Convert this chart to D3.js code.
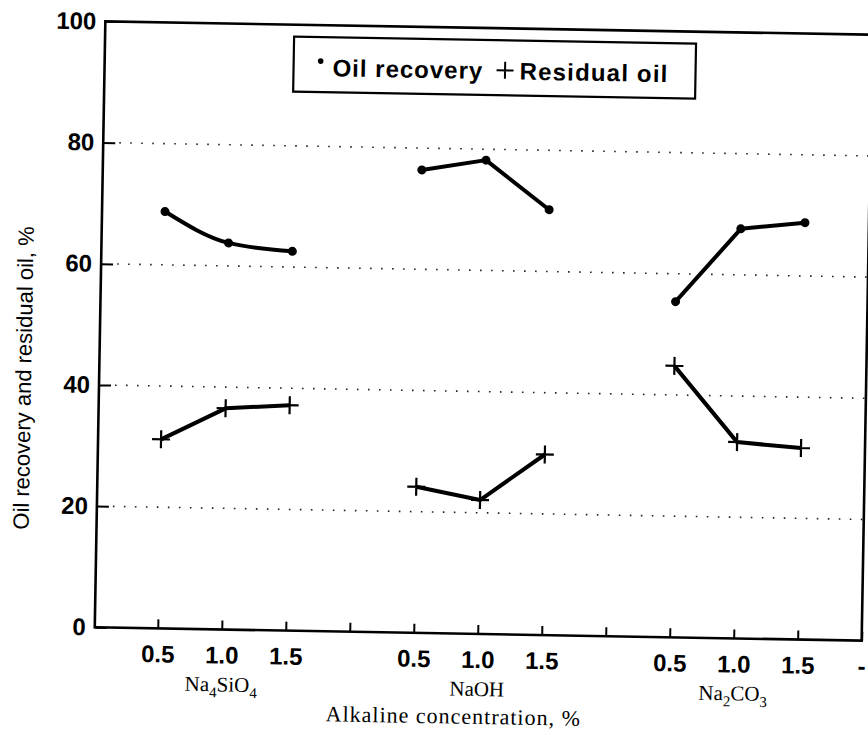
<!DOCTYPE html>
<html>
<head>
<meta charset="utf-8">
<script src="https://cdn.jsdelivr.net/npm/d3@7"></script>
<style>
  body { margin: 0; background: #fff; }
  svg { display: block; }
</style>
</head>
<body>
<svg id="chart" width="868" height="735"></svg>
<script>
// Oil recovery / residual oil vs alkaline concentration

var alkalis = ['Na4SiO4', 'NaOH', 'Na2CO3'];
var concentrations = ['0.5', '1.0', '1.5'];
var oilRecovery = [
  [68.8, 63.8, 62.6],
  [76.4, 78.2, 70.2],
  [55.4, 67.6, 68.8]
];
var residualOil = [
  [31.2, 36.5, 37.2],
  [24.1, 22.1, 29.8],
  [44.8, 32.4, 31.6]
];
var curvedRecovery = ['Na4SiO4'];
var yTicks = [0, 20, 40, 60, 80, 100];
var gridValues = [20, 40, 60, 80];
var xTickLabels = ['0.5', '1.0', '1.5', '', '0.5', '1.0', '1.5', '', '0.5', '1.0', '1.5', '-'];

var plotLeft = 100, plotRight = 867, plotTop = 28, plotBottom = 634;

var svg = d3.select('#chart');
// the scanned figure sits slightly tilted
var g = svg.append('g')
    .attr('transform', 'rotate(1, 483, 331)');

var x = d3.scaleLinear().domain([-1, 11]).range([99, 867]);
var y = d3.scaleLinear().domain([0, 100]).range([plotBottom, plotTop]);

function pos(a, c) { return a * 4 + c; }

// dotted gridlines
g.selectAll('line.grid')
    .data(gridValues)
  .enter().append('line')
    .attr('class', 'grid')
    .attr('x1', plotLeft + 16)
    .attr('x2', plotRight)
    .attr('y1', function(d) { return y(d); })
    .attr('y2', function(d) { return y(d); })
    .attr('stroke', '#222')
    .attr('stroke-width', 1.6)
    .attr('stroke-dasharray', '1.6,9.4');

// axes
var yAxis = d3.axisLeft(y)
    .tickValues(yTicks)
    .tickSizeInner(-12)
    .tickSizeOuter(0)
    .tickPadding(9);
var gy = g.append('g')
    .attr('transform', 'translate(' + plotLeft + ',0)')
    .call(yAxis);
gy.select('.domain').remove();
gy.selectAll('line').attr('stroke', '#000').attr('stroke-width', 2);
gy.selectAll('text')
    .attr('font-family', 'Liberation Sans, Arial, sans-serif')
    .attr('font-weight', 'bold')
    .attr('font-size', 24)
    .attr('fill', '#000');

var xAxis = d3.axisBottom(x)
    .tickValues(d3.range(0, 12))
    .tickFormat(function(i) { return xTickLabels[i]; })
    .tickSizeInner(-9)
    .tickSizeOuter(0)
    .tickPadding(17);
var gx = g.append('g')
    .attr('transform', 'translate(0,' + plotBottom + ')')
    .call(xAxis);
gx.select('.domain').remove();
gx.selectAll('line').attr('stroke', '#000').attr('stroke-width', 2);
gx.selectAll('text')
    .attr('font-family', 'Liberation Sans, Arial, sans-serif')
    .attr('font-weight', 'bold')
    .attr('font-size', 24)
    .attr('fill', '#000');

// frame
g.append('rect')
    .attr('x', plotLeft)
    .attr('y', plotTop)
    .attr('width', plotRight - plotLeft)
    .attr('height', plotBottom - plotTop)
    .attr('fill', 'none')
    .attr('stroke', '#000')
    .attr('stroke-width', 2.6);

// alkali names with subscripts
var names = g.selectAll('text.alkali')
    .data(alkalis)
  .enter().append('text')
    .attr('class', 'alkali')
    .attr('x', function(d, i) { return x(pos(i, 1)); })
    .attr('y', plotBottom + 62)
    .attr('text-anchor', 'middle')
    .attr('font-family', 'Liberation Serif, Times New Roman, serif')
    .attr('font-size', 21)
    .attr('fill', '#000');
names.each(function(d) {
  var t = d3.select(this);
  var parts = d.match(/[A-Za-z]+|\d+/g);
  var low = false;
  parts.forEach(function(p) {
    var isSub = /\d/.test(p);
    var ts = t.append('tspan').text(p);
    if (isSub && !low) { ts.attr('dy', 6).attr('font-size', 15); low = true; }
    else if (isSub) { ts.attr('font-size', 15); }
    else if (low) { ts.attr('dy', -6); low = false; }
  });
});

// axis titles
g.append('text')
    .attr('x', 460)
    .attr('y', 724)
    .attr('text-anchor', 'middle')
    .attr('font-family', 'Liberation Serif, Times New Roman, serif')
    .attr('font-size', 22)
    .attr('letter-spacing', 1)
    .attr('fill', '#000')
    .text('Alkaline concentration, %');

g.append('text')
    .attr('transform', 'translate(32,386) rotate(-90)')
    .attr('text-anchor', 'middle')
    .attr('font-family', 'Liberation Sans, Arial, sans-serif')
    .attr('font-size', 22)
    .attr('fill', '#000')
    .text('Oil recovery and residual oil, %');

// series lines
var straight = d3.line()
    .x(function(d) { return x(d.i); })
    .y(function(d) { return y(d.v); });
var smooth = d3.line()
    .curve(d3.curveMonotoneX)
    .x(function(d) { return x(d.i); })
    .y(function(d) { return y(d.v); });

function points(vals, a) {
  return vals.map(function(v, c) { return {i: pos(a, c), v: v}; });
}

alkalis.forEach(function(name, a) {
  var rec = points(oilRecovery[a], a);
  var res = points(residualOil[a], a);

  g.append('path')
      .datum(rec)
      .attr('d', curvedRecovery.indexOf(name) >= 0 ? smooth : straight)
      .attr('fill', 'none')
      .attr('stroke', '#000')
      .attr('stroke-width', 4)
      .attr('stroke-linejoin', 'round');
  g.selectAll('circle.rec' + a)
      .data(rec)
    .enter().append('circle')
      .attr('cx', function(d) { return x(d.i); })
      .attr('cy', function(d) { return y(d.v); })
      .attr('r', 4.5)
      .attr('fill', '#000');

  g.append('path')
      .datum(res)
      .attr('d', straight)
      .attr('fill', 'none')
      .attr('stroke', '#000')
      .attr('stroke-width', 4)
      .attr('stroke-linejoin', 'round');
  g.selectAll('path.res' + a)
      .data(res)
    .enter().append('path')
      .attr('d', function(d) {
        var cx = x(d.i), cy = y(d.v);
        return 'M' + (cx - 9) + ',' + cy + 'H' + (cx + 9) +
               'M' + cx + ',' + (cy - 9) + 'V' + (cy + 9);
      })
      .attr('stroke', '#000')
      .attr('stroke-width', 2.2);
});

// legend
var lg = g.append('g').attr('transform', 'translate(289,40)');
lg.append('rect')
    .attr('width', 402)
    .attr('height', 55)
    .attr('fill', '#fff')
    .attr('stroke', '#000')
    .attr('stroke-width', 2.2);
lg.append('circle')
    .attr('cx', 27)
    .attr('cy', 24)
    .attr('r', 2.8)
    .attr('fill', '#000');
lg.append('text')
    .attr('x', 39)
    .attr('y', 39)
    .attr('font-family', 'Liberation Sans, Arial, sans-serif')
    .attr('font-weight', 'bold')
    .attr('font-size', 24)
    .attr('letter-spacing', 1)
    .text('Oil recovery');
lg.append('path')
    .attr('d', 'M203,30H220M211.5,21.5V38.5')
    .attr('stroke', '#000')
    .attr('stroke-width', 2);
lg.append('text')
    .attr('x', 226)
    .attr('y', 39)
    .attr('font-family', 'Liberation Sans, Arial, sans-serif')
    .attr('font-weight', 'bold')
    .attr('font-size', 24)
    .attr('letter-spacing', 1.2)
    .text('Residual oil');
</script>
</body>
</html>
